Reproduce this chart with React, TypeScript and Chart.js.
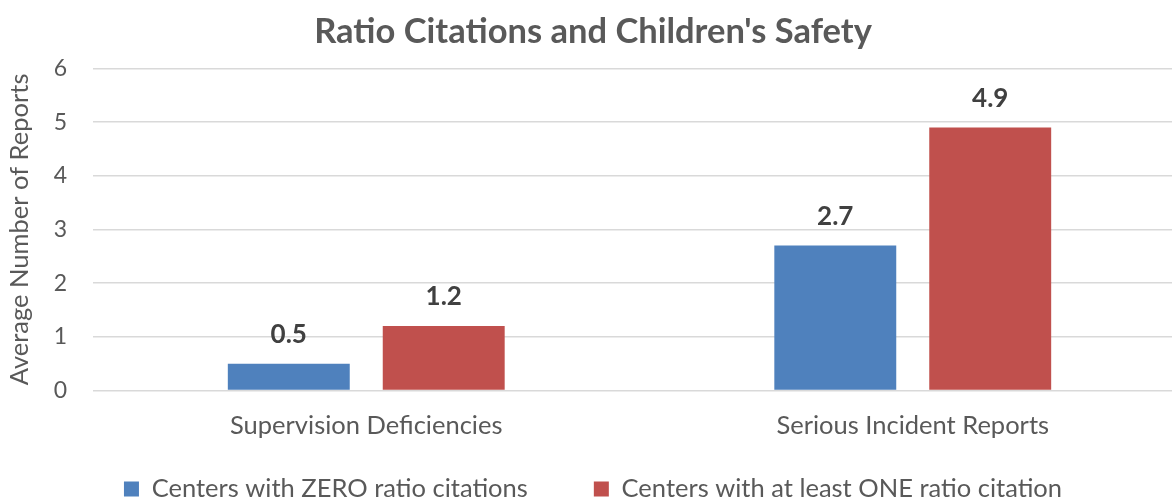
import React, { useEffect, useRef } from "react";
import { Chart, registerables } from "chart.js";

Chart.register(...registerables);

const categories = ["Supervision Deficiencies", "Serious Incident Reports"];
const zeroCitations = [0.5, 2.7];
const oneCitation = [1.2, 4.9];
const seriesNames = ["Centers with ZERO ratio citations", "Centers with at least ONE ratio citation"];
const titleText = "Ratio Citations and Children's Safety";
const yTitle = "Average Number of Reports";

const FONT = "Lato, 'Open Sans', sans-serif";

const valueLabels = {
  id: "valueLabels",
  afterDatasetsDraw(chart: any) {
    const ctx = chart.ctx;
    ctx.save();
    ctx.font = `bold 26px ${FONT}`;
    ctx.fillStyle = "#404040";
    ctx.textAlign = "center";
    ctx.textBaseline = "middle";
    chart.data.datasets.forEach((ds: any, i: number) => {
      const meta = chart.getDatasetMeta(i);
      meta.data.forEach((el: any, j: number) => {
        const v = ds.data[j];
        ctx.fillText(Number(v).toFixed(1), el.x, el.y - 29);
      });
    });
    ctx.restore();
  },
};

export default function App() {
  const ref = useRef<HTMLCanvasElement | null>(null);
  useEffect(() => {
    let chart: any = null;
    let cancelled = false;
    const make = () => {
      if (cancelled || !ref.current) return;
      chart = new Chart(ref.current, {
        type: "bar",
        data: {
          labels: categories,
          datasets: [
            {
              label: seriesNames[0],
              data: zeroCitations,
              backgroundColor: "#4F81BD",
              categoryPercentage: 0.567,
              barPercentage: 0.787,
            },
            {
              label: seriesNames[1],
              data: oneCitation,
              backgroundColor: "#C0504D",
              categoryPercentage: 0.567,
              barPercentage: 0.787,
            },
          ],
        },
        options: {
          responsive: false,
          animation: false,
          layout: { padding: { left: 0, right: 14, top: 0, bottom: -11.75 } },
          plugins: {
            title: {
              display: true,
              text: titleText,
              color: "#595959",
              font: { family: FONT, size: 34.5, weight: "bold" },
              padding: { top: 11, bottom: 16 },
            },
            legend: {
              position: "bottom",
              labels: {
                color: "#595959",
                font: { family: FONT, size: 25.5 },
                boxWidth: 15,
                boxHeight: 15,
                padding: 66,
              },
            },
            tooltip: { enabled: false },
          },
          scales: {
            x: {
              grid: { display: false },
              border: { display: false },
              ticks: {
                color: "#595959",
                font: { family: FONT, size: 25.5 },
                mirror: true,
                padding: -51,
              },
              afterFit: (s: any) => {
                s.height = 19.75;
              },
            },
            y: {
              min: 0,
              max: 6,
              ticks: {
                stepSize: 1,
                color: "#595959",
                font: { family: FONT, size: 23 },
                padding: 26,
              },
              grid: { color: "#D9D9D9", lineWidth: 1.5, drawTicks: false },
              border: { display: false },
              title: {
                display: true,
                text: yTitle,
                color: "#595959",
                font: { family: FONT, size: 25.5 },
                padding: { top: 4, bottom: 0 },
              },
              afterFit: (s: any) => {
                s.width = 93;
              },
            },
          },
        },
        plugins: [valueLabels],
      });
    };
    const fonts: any = (document as any).fonts;
    if (fonts && fonts.load) {
      Promise.all([fonts.load(`22px Lato`), fonts.load(`bold 24px Lato`)])
        .catch(() => {})
        .then(make);
    } else {
      make();
    }
    return () => {
      cancelled = true;
      if (chart) chart.destroy();
    };
  }, []);
  return (
    <div
      style={{
        position: "absolute",
        left: 0,
        top: 0,
        width: 1172,
        height: 500,
        overflow: "hidden",
        background: "#fff",
      }}
    >
      <canvas ref={ref} width={1200} height={500} style={{ display: "block" }} />
    </div>
  );
}
